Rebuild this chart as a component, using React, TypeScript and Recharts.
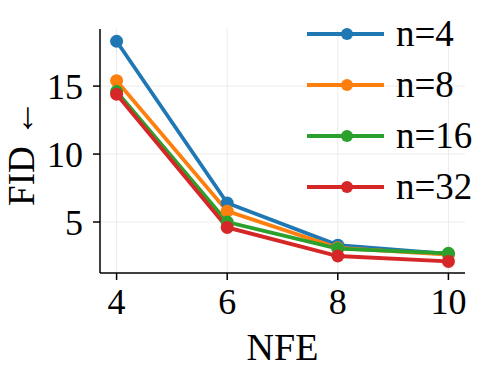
import React from 'react';
import { LineChart, Line, XAxis, YAxis, CartesianGrid } from 'recharts';

const nfe = [4, 6, 8, 10];
const fidN4 = [18.3, 6.4, 3.3, 2.65];
const fidN8 = [15.4, 5.8, 3.1, 2.6];
const fidN16 = [14.6, 5.0, 3.05, 2.7];
const fidN32 = [14.4, 4.6, 2.5, 2.1];
const yTicks = [5, 10, 15];

const series = [
  { key: 'n4', name: 'n=4', color: '#1f77b4', values: fidN4 },
  { key: 'n8', name: 'n=8', color: '#ff7f0e', values: fidN8 },
  { key: 'n16', name: 'n=16', color: '#2ca02c', values: fidN16 },
  { key: 'n32', name: 'n=32', color: '#d62728', values: fidN32 },
];

const data = nfe.map((x, i) => {
  const row: Record<string, number> = { nfe: x };
  series.forEach((s) => (row[s.key] = s.values[i]));
  return row;
});

const font = 'Liberation Serif, serif';

// legend drawn as an overlay so it doesn't shrink the plot area
function LegendBox() {
  return (
    <div style={{ position: 'absolute', left: 305, top: 8 }}>
      {series.map((s) => (
        <div key={s.key} style={{ display: 'flex', alignItems: 'center', height: 51 }}>
          <svg width={80} height={20} style={{ flex: 'none' }}>
            <line x1={2} y1={10} x2={79} y2={10} stroke={s.color} strokeWidth={3.8} />
            <circle cx={42} cy={10} r={6} fill={s.color} />
          </svg>
          <span style={{ fontFamily: font, fontSize: 37, color: '#000', marginLeft: 11, lineHeight: 1 }}>
            {s.name}
          </span>
        </div>
      ))}
    </div>
  );
}

const YLabel = (props: any) => {
  const vb = props.viewBox;
  const cy = vb.y + vb.height / 2 + 2;
  return (
    <text x={34} y={cy} transform={`rotate(-90, 34, ${cy})`} textAnchor="middle" fill="#000" fontSize={37} fontFamily={font}>
      FID ←
    </text>
  );
};

const XLabel = (props: any) => {
  const vb = props.viewBox;
  return (
    <text x={vb.x + vb.width / 2} y={360} textAnchor="middle" fill="#000" fontSize={38} fontFamily={font}>
      NFE
    </text>
  );
};

export default function App() {
  const tick = { fill: '#000', fontSize: 36, fontFamily: font };
  return (
    <div style={{ position: 'absolute', left: 0, top: 0, width: 500, height: 370, background: '#fff', fontFamily: font }}>
      <LineChart width={500} height={370} data={data} margin={{ top: 29, right: 35, left: 0, bottom: 37 }} style={{ fontFamily: font }}>
        <CartesianGrid stroke="#ebebeb" strokeWidth={1} verticalValues={nfe} horizontalValues={yTicks} />
        <XAxis
          dataKey="nfe"
          type="number"
          domain={[3.7, 10.3]}
          ticks={nfe}
          height={60}
          stroke="#000"
          strokeWidth={1.5}
          tickSize={7}
          tick={tick}
          tickMargin={8}
          label={<XLabel />}
        />
        <YAxis
          type="number"
          domain={[1.25, 19.2]}
          ticks={yTicks}
          width={100}
          stroke="#000"
          strokeWidth={1.5}
          tickSize={7}
          tick={tick}
          tickMargin={10}
          allowDataOverflow
          label={<YLabel />}
        />
        {series.map((s) => (
          <Line
            key={s.key}
            dataKey={s.key}
            name={s.name}
            stroke={s.color}
            strokeWidth={3.8}
            dot={{ r: 6.5, fill: s.color, stroke: s.color, strokeWidth: 0 }}
            activeDot={false}
            isAnimationActive={false}
          />
        ))}
      </LineChart>
      <LegendBox />
    </div>
  );
}
